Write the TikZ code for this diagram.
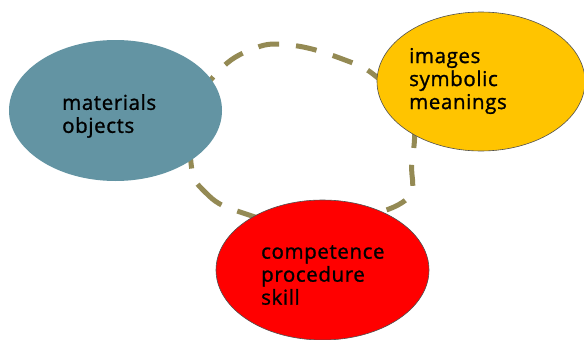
\documentclass[tikz,border=0pt]{standalone}
\usepackage{fontspec}
\setmainfont{Open Sans}
\newfontfamily\labfont{Open Sans}[FakeBold=1.2, LetterSpace=3]
\usetikzlibrary{shapes.geometric}
\definecolor{tealfill}{HTML}{6394A3}
\definecolor{goldfill}{HTML}{FFC400}
\definecolor{redfill}{HTML}{FF0000}
\definecolor{loopline}{HTML}{948A54}
\definecolor{rim}{HTML}{505050}
\begin{document}
\begin{tikzpicture}[x=1pt,y=-1pt,
  blob/.style={ellipse, inner sep=0pt},
  label/.style={anchor=west, align=left, inner sep=0pt, text=black,
    font=\labfont\fontsize{20.5}{23}\selectfont},
  loop/.style={draw=loopline, line width=5pt, dash pattern=on 21pt off 17pt}]
\useasboundingbox (0,0) rectangle (584,340);
\fill[white] (0,0) rectangle (584,340);

% dashed cycle linking the three ideas, drawn beneath the ellipses
\draw[loop] plot[smooth cycle, tension=0.75] coordinates {
  (191,163) (205,192) (240,212) (300,222) (398,205) (412,162)
  (410,112) (378,78) (345,60) (290,45) (250,50) (215,75) (196,110)};

\node[blob, fill=tealfill, minimum width=213pt, minimum height=141pt] (mat) at (115.5,110.5) {};
\node[blob, fill=goldfill, draw=rim, line width=0.6pt, minimum width=208pt, minimum height=139pt] (img) at (481,81.5) {};
\node[blob, fill=redfill, draw=rim, line width=0.6pt, minimum width=213pt, minimum height=140pt] (comp) at (322.5,270) {};

\node[label] (matText) at (62,116) {materials\\objects};
\node[label] (imgText) at (409,81) {images\\symbolic\\meanings};
\node[label] (compText) at (261,275) {competence\\procedure\\skill};
\end{tikzpicture}
\end{document}
